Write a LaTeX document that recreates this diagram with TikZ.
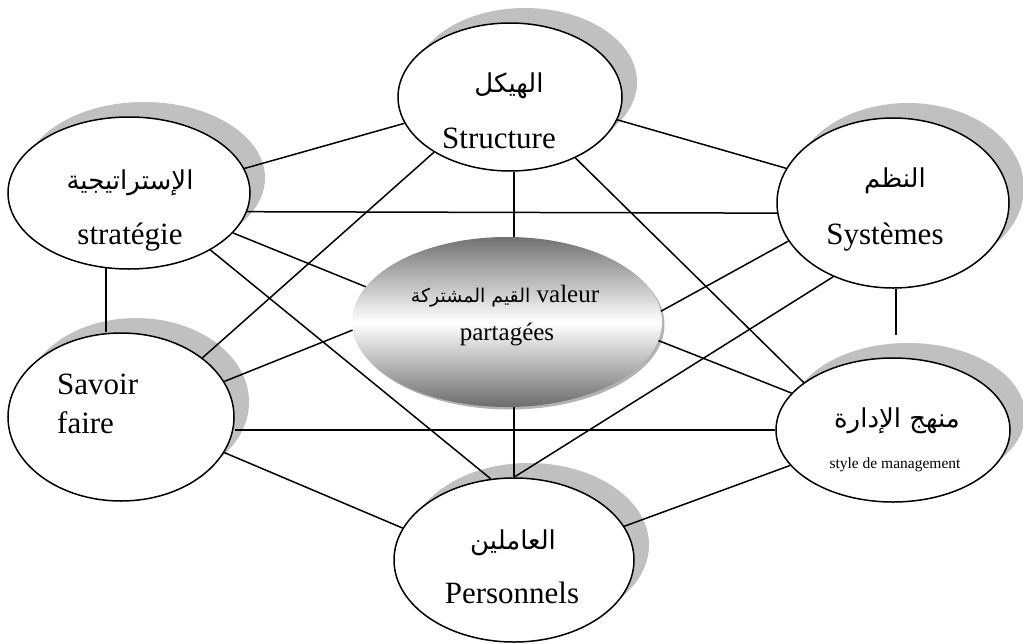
\documentclass[tikz,border=0pt]{standalone}
\usepackage{fontspec}
\setmainfont{Liberation Serif}
\newfontfamily\arabicfont[Script=Arabic]{DejaVu Sans}
\TeXXeTstate=1
\usetikzlibrary{shapes.geometric,shadows}
\definecolor{shadowgrey}{HTML}{C0C0C0}
\tikzset{
  bubble/.style={ellipse, draw=black, line width=1.5pt, fill=white, inner sep=0pt,
    drop shadow={shadow xshift=15pt, shadow yshift=15pt, fill=shadowgrey, opacity=1}},
  hub/.style={ellipse, draw=none, inner sep=0pt},
  link/.style={draw=black, line width=1.5pt},
  lat/.style={font=\fontsize{31}{34}\selectfont, inner sep=0pt},
  latsmall/.style={font=\fontsize{25}{28}\selectfont, inner sep=0pt},
  lattiny/.style={font=\fontsize{15.5}{18}\selectfont, inner sep=0pt},
  ar/.style={font=\arabicfont\fontsize{26}{30}\selectfont, inner sep=0pt},
}
\begin{document}
\begin{tikzpicture}[x=1pt,y=-1pt]
\useasboundingbox (0,0) rectangle (1023,643);

% the six elements round the shared values
\node[bubble, minimum width=224pt, minimum height=148pt] (str)  at (510,97)  {};
\node[bubble, minimum width=242pt, minimum height=152pt] (stra) at (129,193) {};
\node[bubble, minimum width=232pt, minimum height=170pt] (sys)  at (893,203) {};
\node[bubble, minimum width=226pt, minimum height=168pt] (sav)  at (121,417) {};
\node[bubble, minimum width=234pt, minimum height=144pt] (man)  at (893,430) {};
\node[bubble, minimum width=240pt, minimum height=164pt] (per)  at (514,560) {};

% shared values: thin rim below right, then a grey-white-grey vertical gradient
\fill[black!30] (509.5,324.5) ellipse [x radius=155pt, y radius=85pt];
\begin{scope}
  \clip (507,322) ellipse [x radius=155pt, y radius=85pt];
  \foreach \i in {0,...,85} {
    \pgfmathsetmacro\yy{237+2*\i}
    \pgfmathsetmacro\p{\yy<322 ? 55*(322-\yy)/85 : 58*(\yy-322)/85}
    \fill[black!\p] (350,\yy) rectangle (665,\yy+2.4);
  }
\end{scope}
\node[hub, minimum width=310pt, minimum height=170pt] (cen) at (507,322) {};

% connectors
\draw[link] (stra.12.7) -- (str.-166.1);
\draw[link] (str.-12) -- (sys.162.2);
\draw[link] (stra.-9.8) -- (sys.185.4);
\draw[link] (per.north |- str.south) -- (per.north |- cen.north);
\draw[link] (str.216.9) -- (sav.36.5);
\draw[link] (str.-43.1) -- (man.152.2);
\draw[link] (stra.-21.7) -- (cen.166.1);
\draw[link] (stra.-35.7) -- (per.106.3);
\draw[link] (stra.253.6) -- (stra.253.6 |- sav.north);
\draw[link] (sav.19.1) -- (cen.183.9);
\draw[link] (sav.east |- man.west) -- (man.west);
\draw[link] (sav.-19.4) -- (per.164.2);
\draw[link] (sys.200.5) -- (cen.4.6);
\draw[link] (sys.231.1) -- (per.north);
\draw[link, shorten >=22pt] (sys.272) -- (sys.272 |- man.north);
\draw[link] (cen.-7.8) -- (man.160.8);
\draw[link] (per.north |- cen.south) -- (per.north);
\draw[link] (per.17.4) -- (man.199.5);

% labels
\node[ar] (strA) at (509,86) {\beginR الهيكل\endR};
\node[lat, anchor=base] (strL) at (499,148) {Structure};
\node[ar] (straA) at (130,183) {\beginR الإستراتيجية\endR};
\node[lat, anchor=base] (straL) at (130,244) {stratégie};
\node[ar] (sysA) at (895,181) {\beginR النظم\endR};
\node[lat, anchor=base] (sysL) at (885,244) {Systèmes};
\node[lat, anchor=base west] (savL1) at (57,394) {Savoir};
\node[lat, anchor=base west] (savL2) at (57,433) {faire};
\node[ar] (manA) at (897,421) {\beginR منهج الإدارة\endR};
\node[lattiny, anchor=base] (manL) at (895,468) {style de management};
\node[ar] (perA) at (513,543) {\beginR العاملين\endR};
\node[lat, anchor=base] (perL) at (512,603) {Personnels};
\node[latsmall, anchor=base] (cenL1) at (505,302) {{\arabicfont\fontsize{19}{22}\selectfont\beginR القيم المشتركة\endR} valeur};
\node[latsmall, anchor=base] (cenL2) at (507,340) {partagées};
\end{tikzpicture}
\end{document}
